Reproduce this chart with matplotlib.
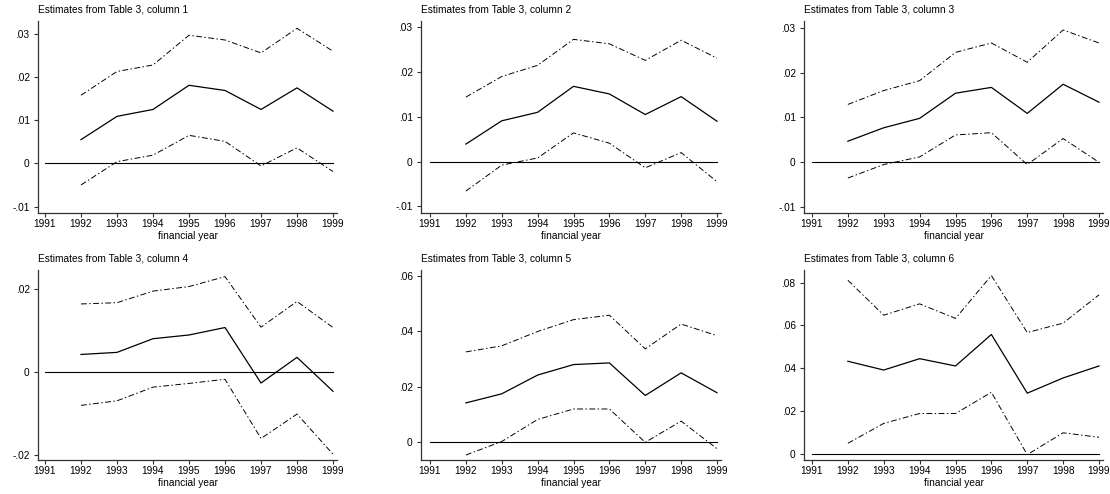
import matplotlib
matplotlib.use("Agg")
import matplotlib.pyplot as plt

plt.rcParams['font.family'] = ['Liberation Sans', 'DejaVu Sans']

years = [1992, 1993, 1994, 1995, 1996, 1997, 1998, 1999]
xticks = [1991, 1992, 1993, 1994, 1995, 1996, 1997, 1998, 1999]

titles = ["Estimates from Table 3, column 1", "Estimates from Table 3, column 2",
          "Estimates from Table 3, column 3", "Estimates from Table 3, column 4",
          "Estimates from Table 3, column 5", "Estimates from Table 3, column 6"]

est1 = [0.0055, 0.0109, 0.0125, 0.0181, 0.0169, 0.0125, 0.0175, 0.0121]
up1 = [0.0158, 0.0213, 0.0228, 0.0297, 0.0286, 0.0256, 0.0313, 0.0260]
lo1 = [-0.0050, 0.0004, 0.0019, 0.0065, 0.0051, -0.0006, 0.0036, -0.0019]

est2 = [0.0039, 0.0091, 0.0110, 0.0168, 0.0151, 0.0105, 0.0145, 0.0090]
up2 = [0.0144, 0.0190, 0.0215, 0.0273, 0.0263, 0.0226, 0.0271, 0.0231]
lo2 = [-0.0066, -0.0008, 0.0008, 0.0064, 0.0041, -0.0014, 0.0020, -0.0045]

est3 = [0.0047, 0.0077, 0.0098, 0.0154, 0.0167, 0.0109, 0.0174, 0.0134]
up3 = [0.0129, 0.0160, 0.0182, 0.0245, 0.0266, 0.0223, 0.0295, 0.0266]
lo3 = [-0.0035, -0.0005, 0.0012, 0.0061, 0.0066, -0.0005, 0.0053, 0.0000]

est4 = [0.0043, 0.0048, 0.0081, 0.0090, 0.0108, -0.0026, 0.0036, -0.0046]
up4 = [0.0165, 0.0168, 0.0196, 0.0207, 0.0231, 0.0109, 0.0171, 0.0108]
lo4 = [-0.0080, -0.0069, -0.0036, -0.0027, -0.0017, -0.0160, -0.0101, -0.0198]

est5 = [0.0141, 0.0174, 0.0242, 0.0280, 0.0286, 0.0168, 0.0250, 0.0178]
up5 = [0.0326, 0.0348, 0.0400, 0.0443, 0.0459, 0.0337, 0.0427, 0.0385]
lo5 = [-0.0048, 0.0001, 0.0081, 0.0119, 0.0119, -0.0002, 0.0075, -0.0025]

est6 = [0.0433, 0.0392, 0.0445, 0.0411, 0.0558, 0.0284, 0.0355, 0.0411]
up6 = [0.0811, 0.0648, 0.0701, 0.0633, 0.0833, 0.0567, 0.0611, 0.0743]
lo6 = [0.0050, 0.0143, 0.0189, 0.0189, 0.0288, -0.0003, 0.0099, 0.0078]

yticks1 = [-0.01, 0, 0.01, 0.02, 0.03]
ylabels1 = ["-.01", "0", ".01", ".02", ".03"]
yticks4 = [-0.02, 0, 0.02]
ylabels4 = ["-.02", "0", ".02"]
yticks5 = [0, 0.02, 0.04, 0.06]
ylabels5 = ["0", ".02", ".04", ".06"]
yticks6 = [0, 0.02, 0.04, 0.06, 0.08]
ylabels6 = ["0", ".02", ".04", ".06", ".08"]

panels = [
    (est1, up1, lo1, yticks1, ylabels1, (-0.0115, 0.0330)),
    (est2, up2, lo2, yticks1, ylabels1, (-0.0115, 0.0314)),
    (est3, up3, lo3, yticks1, ylabels1, (-0.0113, 0.0315)),
    (est4, up4, lo4, yticks4, ylabels4, (-0.0212, 0.0247)),
    (est5, up5, lo5, yticks5, ylabels5, (-0.0066, 0.0623)),
    (est6, up6, lo6, yticks6, ylabels6, (-0.0028, 0.0859)),
]

W, H = 1110, 494
fig = plt.figure(figsize=(W / 100, H / 100), dpi=100)

# pixel geometry per column: spine-left, 1991 px, 1999 px, right end px
cols = [(38, 45, 333, 337), (421, 430, 717, 721), (804, 812, 1099, 1103)]
rows = [(21, 213), (270, 460)]

for i, (est, up, lo, yt, yl, ylim) in enumerate(panels):
    r, c = divmod(i, 3)
    sl, p91, p99, rend = cols[c]
    top, bot = rows[r]
    ax = fig.add_axes([sl / W, 1 - bot / H, (rend - sl) / W, (bot - top) / H])
    ppy = (p99 - p91) / 8.0
    ax.set_xlim(1991 - (p91 - sl) / ppy, 1999 + (rend - p99) / ppy)
    ax.set_ylim(*ylim)
    ax.plot([1991, 1999], [0, 0], color='black', lw=0.8)
    ax.plot(years, est, color='black', lw=0.9)
    ax.plot(years, up, color='black', lw=0.7, dashes=[6, 2.5, 1.5, 2.5])
    ax.plot(years, lo, color='black', lw=0.7, dashes=[6, 2.5, 1.5, 2.5])
    ax.set_xticks(xticks)
    ax.set_xticklabels([str(x) for x in xticks])
    ax.set_yticks(yt)
    ax.set_yticklabels(yl)
    for s in ['top', 'right']:
        ax.spines[s].set_visible(False)
    for s in ['left', 'bottom']:
        ax.spines[s].set_color('#333333')
        ax.spines[s].set_linewidth(0.9)
    ax.tick_params(axis='both', direction='out', length=3, width=0.8,
                   color='#333333', labelsize=7.3)
    ax.tick_params(axis='x', pad=1.5)
    ax.tick_params(axis='y', pad=3)
    ax.set_xlabel("financial year", fontsize=7.3, labelpad=1.5)
    ax.set_title(titles[i], loc='left', fontsize=7.3, pad=6, x=0.0)

fig.savefig("out.png", dpi=100)
